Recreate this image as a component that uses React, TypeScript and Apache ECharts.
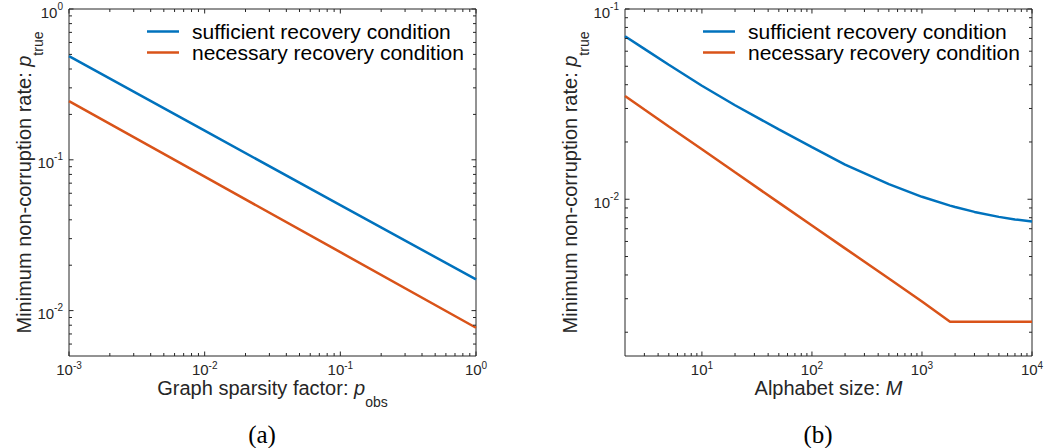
import React, { useEffect, useRef } from "react";
import * as echarts from "echarts";

// ---------- data ----------
const leftP = [0.001, 0.01, 0.1, 1];
const leftSufficient = [0.487, 0.156, 0.0501, 0.0161];
const leftNecessary = [0.245, 0.0773, 0.0244, 0.0077];

const rightM = [2, 3, 5, 10, 20, 50, 100, 200, 500, 1000, 1800, 2000, 3000, 5000, 7000, 10000];
const rightSufficient = [0.0719, 0.0617, 0.0509, 0.0395, 0.0312, 0.0233, 0.0188, 0.0152, 0.012, 0.0103, 0.00926, 0.0091, 0.00858, 0.00808, 0.00783, 0.00764];
const rightNecessary = [0.0349, 0.0296, 0.0241, 0.0183, 0.01385, 0.0096, 0.00728, 0.00552, 0.00383, 0.0029, 0.00227, 0.00227, 0.00227, 0.00227, 0.00227, 0.00227];

const seriesNames = ["sufficient recovery condition", "necessary recovery condition"];

// tick label exponents
const leftXExp = [-3, -2, -1, 0];
const leftYExp = [-2, -1, 0];
const rightXExp = [1, 2, 3, 4];
const rightYExp = [-2, -1];

// axis ranges
const leftXRange = [0.001, 1];
const leftYRange = [0.005, 1];
const rightXRange = [2, 10000];
const rightYRange = [0.0015, 0.1];

// ---------- style ----------
const FONT = '"Liberation Sans", Arial, Helvetica, sans-serif';
const INK = "#262626";
const BLUE = "#0072BD";
const ORANGE = "#D95319";
const MAJOR = 4.5;
const MINOR = 3;
const TICK_FS = 15;
const EXP_FS = 10;

function minorTicks(min: number, max: number) {
  const out: number[] = [];
  for (let d = Math.floor(Math.log10(min)); d <= Math.ceil(Math.log10(max)); d++) {
    for (let k = 2; k <= 9; k++) {
      const v = k * Math.pow(10, d);
      if (v > min * 1.0001 && v < max * 0.9999) out.push(v);
    }
  }
  return out;
}

let measureCtx: any = null;
function textWidth(t: string, size: number) {
  if (!measureCtx) measureCtx = document.createElement("canvas").getContext("2d");
  measureCtx.font = `${size}px ${FONT}`;
  return measureCtx.measureText(t).width;
}

function txt(text: string, x: number, y: number, size: number, align: string) {
  return {
    type: "text",
    x,
    y,
    silent: true,
    style: {
      text,
      fill: INK,
      fontSize: size,
      fontFamily: FONT,
      align,
      textAlign: align,
      verticalAlign: "middle",
      textVerticalAlign: "middle",
    },
  };
}

function makeTickRenderer(cfg: any) {
  return (params: any, api: any) => {
    const children: any[] = [];
    const bl = api.coord([cfg.xr[0], cfg.yr[0]]);
    const tr = api.coord([cfg.xr[1], cfg.yr[1]]);
    const left = bl[0], bottom = bl[1], right = tr[0], top = tr[1];
    const line = (x1: number, y1: number, x2: number, y2: number) =>
      children.push({ type: "line", silent: true, shape: { x1, y1, x2, y2 }, style: { stroke: INK, lineWidth: 1 } });
    const xt = (v: number, len: number) => {
      const px = api.coord([v, cfg.yr[0]])[0];
      line(px, bottom, px, bottom - len);
      line(px, top, px, top + len);
    };
    const yt = (v: number, len: number) => {
      const py = api.coord([cfg.xr[0], v])[1];
      line(left, py, left + len, py);
      line(right, py, right - len, py);
    };
    minorTicks(cfg.xr[0], cfg.xr[1]).forEach((v) => xt(v, MINOR));
    minorTicks(cfg.yr[0], cfg.yr[1]).forEach((v) => yt(v, MINOR));
    cfg.xExp.forEach((e: number) => {
      const v = Math.pow(10, e);
      xt(v, MAJOR);
      const px = api.coord([v, cfg.yr[0]])[0];
      const es = String(e);
      const wb = textWidth("10", TICK_FS);
      const we = textWidth(es, EXP_FS);
      const xs = px - (wb + we) / 2;
      children.push(txt("10", xs, bottom + 13, TICK_FS, "left"));
      children.push(txt(es, xs + wb, bottom + 9, EXP_FS, "left"));
    });
    cfg.yExp.forEach((e: number) => {
      const v = Math.pow(10, e);
      yt(v, MAJOR);
      const py = api.coord([cfg.xr[0], v])[1];
      const es = String(e);
      const we = textWidth(es, EXP_FS);
      const xr = left - 6;
      children.push(txt(es, xr, py - 3, EXP_FS, "right"));
      children.push(txt("10", xr - we, py + 3, TICK_FS, "right"));
    });
    return { type: "group", children };
  };
}

const richBase = {
  n: { fontSize: 20, fontFamily: FONT, color: INK, lineHeight: 24, verticalAlign: "top" },
  i: { fontSize: 20, fontFamily: FONT, color: INK, fontStyle: "italic", lineHeight: 24, verticalAlign: "top" },
  s: { fontSize: 14, fontFamily: FONT, color: INK, lineHeight: 31, verticalAlign: "bottom" },
};

function makeAxis(range: number[], gridIndex: number, name: string, gap: number) {
  return {
    type: "log",
    logBase: 10,
    gridIndex,
    min: range[0],
    max: range[1],
    axisLine: { show: false },
    axisTick: { show: false },
    axisLabel: { show: false },
    splitLine: { show: false },
    minorTick: { show: false },
    name,
    nameLocation: "middle",
    nameGap: gap,
    nameTextStyle: { rich: richBase },
  };
}

function pairs(xs: number[], ys: number[]) {
  return xs.map((x, i) => [x, ys[i]]);
}

function lineSeries(name: string, color: string, data: number[][], idx: number) {
  return {
    name,
    type: "line",
    xAxisIndex: idx,
    yAxisIndex: idx,
    data,
    showSymbol: false,
    symbol: "none",
    lineStyle: { color, width: 2.5 },
    itemStyle: { color },
    z: 3,
  };
}

function legendAt(left: number) {
  return {
    left,
    top: 21,
    padding: 0,
    orient: "vertical",
    itemWidth: 32,
    itemHeight: 2.5,
    itemGap: 0,
    icon: "rect",
    selectedMode: false,
    textStyle: { fontSize: 21, fontFamily: FONT, color: "#000", lineHeight: 20, padding: [0, 0, 0, 8] },
    data: seriesNames,
  };
}

export default function App() {
  const ref = useRef<HTMLDivElement>(null);
  useEffect(() => {
    if (!ref.current) return;
    const chart = echarts.init(ref.current, null, { renderer: "svg" });
    const option: any = {
      animation: false,
      backgroundColor: "#ffffff",
      grid: [
        { left: 69, top: 9, width: 407, height: 347, show: true, borderColor: INK, borderWidth: 1, backgroundColor: "transparent" },
        { left: 625, top: 9, width: 407, height: 347, show: true, borderColor: INK, borderWidth: 1, backgroundColor: "transparent" },
      ],
      xAxis: [
        makeAxis(leftXRange, 0, "{n|Graph sparsity factor: }{i|p}{s|obs}", 21.5),
        makeAxis(rightXRange, 1, "{n|Alphabet size: }{i|M}", 22),
      ],
      yAxis: [
        { ...makeAxis(leftYRange, 0, "{n|Minimum non-corruption rate: }{i|p}{s|true}", 24.5), nameRotate: 90 },
        { ...makeAxis(rightYRange, 1, "{n|Minimum non-corruption rate: }{i|p}{s|true}", 34), nameRotate: 90 },
      ],
      legend: [legendAt(147), legendAt(703)],
      series: [
        lineSeries(seriesNames[0], BLUE, pairs(leftP, leftSufficient), 0),
        lineSeries(seriesNames[1], ORANGE, pairs(leftP, leftNecessary), 0),
        lineSeries(seriesNames[0], BLUE, pairs(rightM, rightSufficient), 1),
        lineSeries(seriesNames[1], ORANGE, pairs(rightM, rightNecessary), 1),
        {
          type: "custom",
          xAxisIndex: 0,
          yAxisIndex: 0,
          silent: true,
          z: 5,
          data: [[leftXRange[0], leftYRange[0]]],
          renderItem: makeTickRenderer({ xr: leftXRange, yr: leftYRange, xExp: leftXExp, yExp: leftYExp }),
        },
        {
          type: "custom",
          xAxisIndex: 1,
          yAxisIndex: 1,
          silent: true,
          z: 5,
          data: [[rightXRange[0], rightYRange[0]]],
          renderItem: makeTickRenderer({ xr: rightXRange, yr: rightYRange, xExp: rightXExp, yExp: rightYExp }),
        },
      ],
      graphic: [
        { type: "text", x: 262, y: 434, style: { text: "(a)", fontSize: 25, fontFamily: '"Liberation Serif", "DejaVu Serif", serif', fill: "#000", align: "center", textAlign: "center", verticalAlign: "middle", textVerticalAlign: "middle" } },
        { type: "text", x: 818, y: 434, style: { text: "(b)", fontSize: 25, fontFamily: '"Liberation Serif", "DejaVu Serif", serif', fill: "#000", align: "center", textAlign: "center", verticalAlign: "middle", textVerticalAlign: "middle" } },
      ],
    };
    chart.setOption(option);
    return () => chart.dispose();
  }, []);
  return <div ref={ref} style={{ position: "absolute", left: 0, top: 0, width: 1044, height: 448 }} />;
}
